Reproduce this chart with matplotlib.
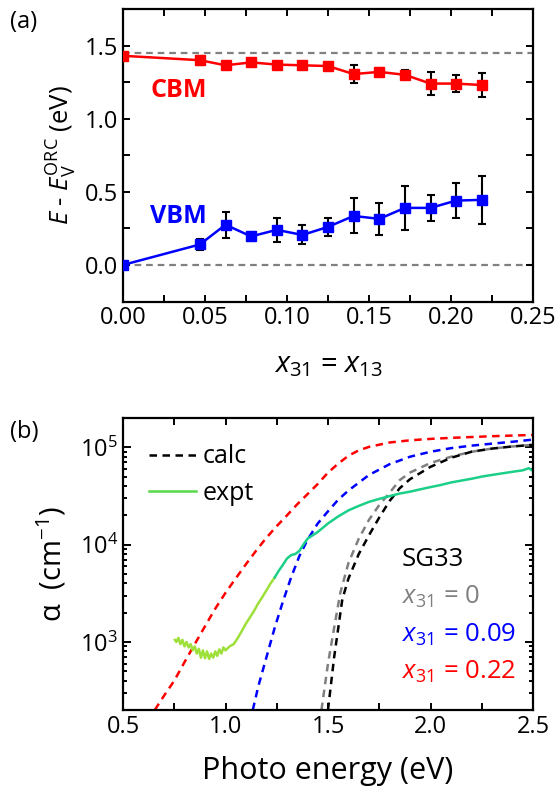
import matplotlib
matplotlib.use("Agg")
import matplotlib.pyplot as plt
import numpy as np
from matplotlib.ticker import MultipleLocator, LogLocator, NullFormatter, FixedLocator
from matplotlib.lines import Line2D

plt.rcParams['font.family'] = ['Open Sans', 'DejaVu Sans']
plt.rcParams['mathtext.fontset'] = 'custom'
plt.rcParams['mathtext.rm'] = 'Open Sans'
plt.rcParams['mathtext.it'] = 'Open Sans:italic'

# ---------------- Panel (a) data ----------------
x_comp = [0.0, 0.046875, 0.0625, 0.078125, 0.09375, 0.109375, 0.125,
          0.140625, 0.15625, 0.171875, 0.1875, 0.203125, 0.21875]
cbm = [1.43, 1.40, 1.365, 1.385, 1.37, 1.365, 1.36, 1.305, 1.32, 1.30, 1.24, 1.24, 1.23]
cbm_err = [0.0, 0.03, 0.02, 0.02, 0.015, 0.02, 0.015, 0.06, 0.03, 0.03, 0.08, 0.06, 0.08]
vbm = [0.0, 0.14, 0.275, 0.195, 0.24, 0.205, 0.26, 0.335, 0.315, 0.39, 0.39, 0.44, 0.445]
vbm_err = [0.0, 0.04, 0.09, 0.03, 0.08, 0.065, 0.06, 0.12, 0.11, 0.15, 0.09, 0.12, 0.165]
ref_levels = [1.45, 0.0]
xticks_a = [0.0, 0.05, 0.10, 0.15, 0.20, 0.25]
xticklabels_a = ['0.00', '0.05', '0.10', '0.15', '0.20', '0.25']
yticks_a = [0.0, 0.5, 1.0, 1.5]
yticklabels_a = ['0.0', '0.5', '1.0', '1.5']

# ---------------- Panel (b) data ----------------
red_x = [0.655, 0.70, 0.75, 0.80, 0.85, 0.90, 0.95, 1.00, 1.05, 1.10, 1.15, 1.20, 1.25,
         1.30, 1.35, 1.40, 1.45, 1.50, 1.55, 1.60, 1.65, 1.70, 1.80, 1.90, 2.00, 2.10,
         2.20, 2.30, 2.40, 2.50]
red_y = [200, 280, 400, 620, 950, 1450, 2200, 3200, 4500, 6300, 8700, 11800, 15500,
         20000, 26000, 33000, 42000, 55000, 68000, 82000, 93000, 101000, 112000, 118000,
         122000, 125000, 127500, 130000, 132000, 134000]
blue_x = [1.133, 1.16, 1.20, 1.24, 1.28, 1.32, 1.36, 1.40, 1.45, 1.50, 1.55, 1.60, 1.70,
          1.80, 1.90, 2.00, 2.10, 2.20, 2.30, 2.40, 2.50]
blue_y = [200, 350, 700, 1400, 2600, 4600, 7600, 11200, 16500, 22000, 29000, 36000, 52000,
          67000, 80000, 90000, 98000, 104000, 109000, 114000, 120000]
gray_x = [1.468, 1.50, 1.53, 1.56, 1.60, 1.65, 1.70, 1.75, 1.80, 1.85, 1.90, 2.00, 2.10,
          2.20, 2.30, 2.40, 2.50]
gray_y = [200, 600, 1400, 3200, 6500, 11500, 18000, 25500, 34000, 46000, 55000, 69000,
          80000, 90000, 97000, 102000, 106000]
black_x = [1.50, 1.53, 1.57, 1.60, 1.65, 1.70, 1.75, 1.80, 1.85, 1.90, 2.00, 2.10, 2.20,
           2.30, 2.40, 2.50]
black_y = [200, 700, 2750, 4500, 8000, 12500, 19000, 28000, 38000, 47000, 63000, 78000,
           90000, 97000, 102000, 106000]
expt_x = [0.753, 0.76, 0.77, 0.78, 0.79, 0.80, 0.81, 0.82, 0.83, 0.84, 0.85, 0.86, 0.87,
          0.88, 0.89, 0.90, 0.91, 0.92, 0.93, 0.94, 0.95, 0.96, 0.97, 0.98, 0.99, 1.00,
          1.02, 1.04, 1.06, 1.08, 1.10, 1.12, 1.14, 1.16, 1.18, 1.20, 1.22, 1.24, 1.26,
          1.28, 1.30, 1.32, 1.34, 1.36, 1.38, 1.40, 1.45, 1.50, 1.55, 1.60, 1.65, 1.70,
          1.75, 1.80, 1.85, 1.90, 1.95, 2.00, 2.05, 2.10, 2.15, 2.20, 2.25, 2.30, 2.35,
          2.40, 2.45, 2.48, 2.50]
expt_y = [1050, 1000, 1100, 950, 1050, 900, 1000, 880, 950, 820, 900, 760, 850,
          690, 820, 680, 800, 670, 760, 690, 800, 720, 840, 760, 880, 820,
          900, 950, 1100, 1300, 1550, 1800, 2100, 2500, 2900, 3400, 4000, 4600, 5400,
          6200, 7200, 7800, 8000, 8600, 10000, 11500, 13500, 16500, 19500, 22500, 25000,
          27500, 29500, 31500, 33500, 35000, 37000, 39000, 41000, 43500, 45500, 47500,
          50000, 52000, 54000, 56000, 58000, 61000, 57000]
xticks_b = [0.5, 1.0, 1.5, 2.0, 2.5]
xticklabels_b = ['0.5', '1.0', '1.5', '2.0', '2.5']
yticks_b = [1e3, 1e4, 1e5]
yticklabels_b = [r'10$^3$', r'10$^4$', r'10$^5$']
legend_labels = ['calc', 'expt']
sample_labels = ['SG33', r'$x_{31}$ = 0', r'$x_{31}$ = 0.09', r'$x_{31}$ = 0.22']
sample_colors = ['black', '#808080', 'blue', 'red']

W, H = 559, 795
fig = plt.figure(figsize=(W / 100, H / 100), dpi=100)

def frac(l, t, r, b):
    return [l / W, 1 - b / H, (r - l) / W, (b - t) / H]

DASH = (0, (3, 2.2))
TICK_FS = 17

# ---------------- Panel (a) ----------------
ax1 = fig.add_axes(frac(123, 9, 533, 301.5))
for y0 in ref_levels:
    ax1.axhline(y0, color='#808080', ls=DASH, lw=1.6, zorder=1)
for vals, errs, col in ((cbm, cbm_err, 'red'), (vbm, vbm_err, 'blue')):
    ax1.plot(x_comp, vals, color=col, lw=1.8, zorder=2)
    ax1.errorbar(x_comp, vals, yerr=errs, fmt='none', ecolor='black', elinewidth=1.5,
                 capsize=3, capthick=1.5, zorder=3)
    ax1.plot(x_comp, vals, 's', color=col, ms=6.5, zorder=4)
ax1.set_xlim(0, 0.25)
ax1.set_ylim(-0.25, 1.75)
ax1.xaxis.set_major_locator(FixedLocator(xticks_a))
ax1.xaxis.set_minor_locator(MultipleLocator(0.025))
ax1.yaxis.set_major_locator(FixedLocator(yticks_a))
ax1.yaxis.set_minor_locator(MultipleLocator(0.25))
ax1.set_xticklabels(xticklabels_a)
ax1.set_yticklabels(yticklabels_a)
ax1.text(0.034, 1.19, 'CBM', color='red', fontsize=18, fontweight='bold',
         ha='center', va='center')
ax1.text(0.034, 0.33, 'VBM', color='blue', fontsize=18, fontweight='bold',
         ha='center', va='center')
ax1.set_xlabel(r'$x_{31}$ = $x_{13}$', fontsize=21, labelpad=14)
ax1.set_ylabel(r'$E$ - $E_{\rm V}^{\rm ORC}$ (eV)', fontsize=18.5, labelpad=4)
fig.text(10 / W, 1 - 22 / H, '(a)', fontsize=17, va='center', ha='left')

# ---------------- Panel (b) ----------------
ax2 = fig.add_axes(frac(123, 418, 533, 710))
ax2.plot(red_x, red_y, color='red', ls=DASH, lw=1.8)
ax2.plot(blue_x, blue_y, color='blue', ls=DASH, lw=1.8)
ax2.plot(gray_x, gray_y, color='#808080', ls=DASH, lw=1.8)
ax2.plot(black_x, black_y, color='black', ls=DASH, lw=1.8)
ex = np.array(expt_x)
ey = np.array(expt_y)
cut = 1.24
m1 = ex <= cut + 1e-9
m2 = ex >= cut - 1e-9
ax2.plot(ex[m1], ey[m1], color='#9ee03a', lw=1.8)
ax2.plot(ex[m2], ey[m2], color='#1ccf88', lw=1.8)
ax2.set_yscale('log')
ax2.set_xlim(0.5, 2.5)
ax2.set_ylim(200, 2e5)
ax2.xaxis.set_major_locator(FixedLocator(xticks_b))
ax2.xaxis.set_minor_locator(MultipleLocator(0.25))
ax2.set_xticklabels(xticklabels_b)
ax2.yaxis.set_major_locator(FixedLocator(yticks_b))
ax2.set_yticklabels(yticklabels_b)
ax2.yaxis.set_minor_locator(LogLocator(base=10, subs=np.arange(2, 10)))
ax2.yaxis.set_minor_formatter(NullFormatter())
ax2.set_xlabel('Photo energy (eV)', fontsize=22, labelpad=12)
ax2.set_ylabel(r'α  (cm$^{-1}$)', fontsize=21, labelpad=8)
fig.text(10 / W, 1 - 432 / H, '(b)', fontsize=17, va='center', ha='left')

handles = [Line2D([], [], color='black', ls=DASH, lw=1.8),
           Line2D([], [], color='#55d84a', lw=1.8)]
ax2.legend(handles, legend_labels, loc='upper left', frameon=False, fontsize=18,
           handlelength=1.9, handletextpad=0.25, borderaxespad=0.3, labelspacing=0.45,
           bbox_to_anchor=(0.02, 0.97))

ys = [0.514, 0.387, 0.257, 0.130]
for lab, col, yy in zip(sample_labels, sample_colors, ys):
    ax2.text(0.68, yy, lab, transform=ax2.transAxes, fontsize=18.5, color=col, va='center')

for ax in (ax1, ax2):
    for s in ax.spines.values():
        s.set_linewidth(1.6)
    ax.tick_params(which='both', direction='in', top=True, right=True, width=1.4,
                   labelsize=TICK_FS, length=5)
ax2.tick_params(axis='y', which='minor', length=3)
ax2.tick_params(axis='y', which='major', length=6)

fig.savefig('out.png', dpi=100)
